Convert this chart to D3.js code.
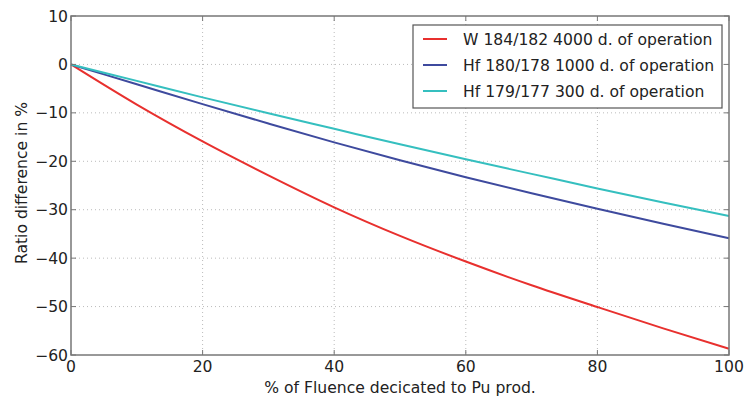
<!DOCTYPE html>
<html>
<head>
<meta charset="utf-8">
<script src="https://cdn.jsdelivr.net/npm/d3@7"></script>
<style>
  html, body { margin: 0; padding: 0; background: #fff; }
  svg text { font-family: "DejaVu Sans", sans-serif; fill: #222; }
</style>
</head>
<body>
<svg id="chart" width="746" height="398"></svg>
<script>
// fluence share (%) on x
const fluence = [0, 10, 20, 30, 40, 50, 60, 70, 80, 90, 100];

// ratio difference in %
const w184 = [0, -8.3, -15.9, -22.9, -29.5, -35.4, -40.7, -45.6, -50.1, -54.5, -58.7];
const hf180 = [0, -4.1, -8.2, -12.2, -16.1, -19.8, -23.3, -26.6, -29.8, -32.9, -35.9];
const hf179 = [0, -3.4, -6.8, -10.1, -13.3, -16.5, -19.6, -22.6, -25.6, -28.5, -31.3];

const seriesNames = [
  "W 184/182 4000 d. of operation",
  "Hf 180/178 1000 d. of operation",
  "Hf 179/177 300 d. of operation"
];
const seriesColors = ["#e8302e", "#3e4a9e", "#35bfbf"];

const xTicks = [0, 20, 40, 60, 80, 100];
const yTicks = [10, 0, -10, -20, -30, -40, -50, -60];

const svg = d3.select("#chart");
const pLeft = 71, pRight = 729, pTop = 16, pBottom = 355;
const fs = 15.6;

const x = d3.scaleLinear().domain([0, 100]).range([pLeft, pRight]);
const y = d3.scaleLinear().domain([-60, 10]).range([pBottom, pTop]);

// grid
const grid = svg.append("g");
grid.selectAll(".gx").data(xTicks.slice(1, -1)).enter().append("line")
  .attr("x1", d => x(d)).attr("x2", d => x(d))
  .attr("y1", pTop).attr("y2", pBottom)
  .attr("stroke", "#bbb").attr("stroke-width", 1).attr("stroke-dasharray", "1,3");
grid.selectAll(".gy").data(yTicks.slice(1, -1)).enter().append("line")
  .attr("x1", pLeft).attr("x2", pRight)
  .attr("y1", d => y(d)).attr("y2", d => y(d))
  .attr("stroke", "#bbb").attr("stroke-width", 1).attr("stroke-dasharray", "1,3");

// lines
const allSeries = [w184, hf180, hf179];
const line = d3.line()
  .x((d, i) => x(fluence[i]))
  .y(d => y(d))
  .curve(d3.curveMonotoneX);

allSeries.forEach((vals, k) => {
  svg.append("path")
    .datum(vals)
    .attr("d", line)
    .attr("fill", "none")
    .attr("stroke", seriesColors[k])
    .attr("stroke-width", 2);
});

// frame
svg.append("rect")
  .attr("x", pLeft).attr("y", pTop)
  .attr("width", pRight - pLeft).attr("height", pBottom - pTop)
  .attr("fill", "none").attr("stroke", "#777").attr("stroke-width", 1.5);

// inward ticks on all four sides
const tickLen = 5;
xTicks.forEach(t => {
  svg.append("line").attr("x1", x(t)).attr("x2", x(t)).attr("y1", pBottom).attr("y2", pBottom - tickLen)
    .attr("stroke", "#777");
  svg.append("line").attr("x1", x(t)).attr("x2", x(t)).attr("y1", pTop).attr("y2", pTop + tickLen)
    .attr("stroke", "#777");
});
yTicks.forEach(t => {
  svg.append("line").attr("x1", pLeft).attr("x2", pLeft + tickLen).attr("y1", y(t)).attr("y2", y(t))
    .attr("stroke", "#777");
  svg.append("line").attr("x1", pRight).attr("x2", pRight - tickLen).attr("y1", y(t)).attr("y2", y(t))
    .attr("stroke", "#777");
});

// tick labels
svg.selectAll(".xl").data(xTicks).enter().append("text")
  .attr("x", d => x(d)).attr("y", pBottom + 16.5)
  .attr("text-anchor", "middle").attr("font-size", fs)
  .text(d => d);
svg.selectAll(".yl").data(yTicks).enter().append("text")
  .attr("x", pLeft - 3).attr("y", d => y(d) + 5.5)
  .attr("text-anchor", "end").attr("font-size", fs)
  .text(d => d < 0 ? "\u2212" + Math.abs(d) : d);

// axis titles
svg.append("text")
  .attr("x", (pLeft + pRight) / 2).attr("y", 393)
  .attr("text-anchor", "middle").attr("font-size", fs)
  .text("% of Fluence decicated to Pu prod.");
svg.append("text")
  .attr("transform", `translate(27,183) rotate(-90)`)
  .attr("text-anchor", "middle").attr("font-size", fs)
  .text("Ratio difference in %");

// legend
const lg = svg.append("g");
lg.append("rect")
  .attr("x", 413).attr("y", 25).attr("width", 309).attr("height", 83)
  .attr("fill", "#fff").attr("stroke", "#555").attr("stroke-width", 1.2);
seriesNames.forEach((name, k) => {
  const cy = 39 + k * 26;
  lg.append("line").attr("x1", 423).attr("x2", 447).attr("y1", cy).attr("y2", cy)
    .attr("stroke", seriesColors[k]).attr("stroke-width", 2);
  lg.append("text").attr("x", 463).attr("y", cy + 5.5)
    .attr("font-size", fs).text(name);
});
</script>
</body>
</html>
